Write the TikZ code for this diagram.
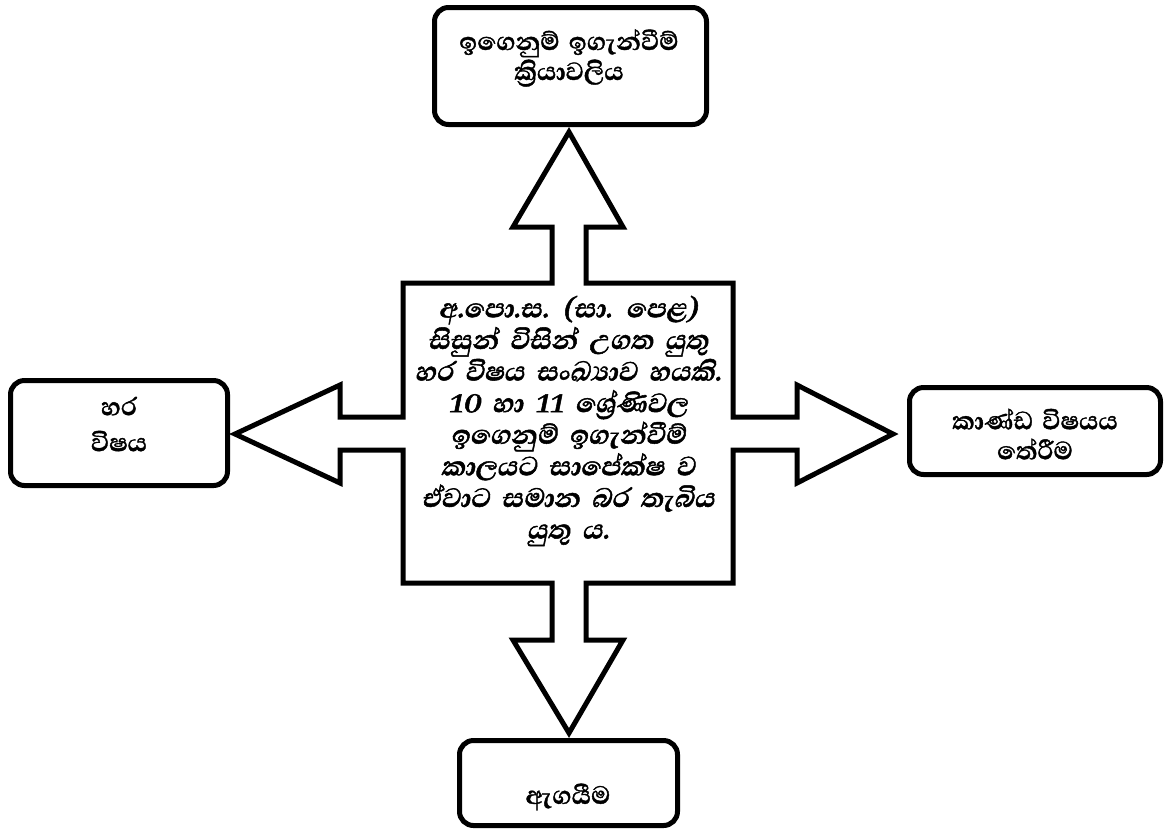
\documentclass[tikz,border=0pt]{standalone}
\usepackage{fontspec}
\newfontfamily\sinhalafont[Script=Sinhala,WordSpace=1.5,FakeBold=1.2]{Abhaya Libre}
\newfontfamily\sinhalaslant[Script=Sinhala,WordSpace=1.8,FakeSlant=0.2,FakeBold=1.5]{Abhaya Libre}
\begin{document}
\begin{tikzpicture}[x=0.5pt,y=-0.5pt,
  box/.style={draw,line width=2.5pt,rounded corners=7pt,inner sep=0pt},
  lbl/.style={align=center,font=\sinhalafont\bfseries\fontsize{16}{15}\selectfont},
  core/.style={align=center,font=\sinhalaslant\bfseries\fontsize{17}{15.8}\selectfont}]
  \useasboundingbox (0,0) rectangle (1168,832);
  % das Kreuz mit den vier Pfeilen
  \draw[line width=2.5pt] (403,283) -- (552,283) -- (552,227) -- (513,227) -- (569,132)
    -- (623,227) -- (586,227) -- (586,283) -- (733,283) -- (733,417) -- (797,417)
    -- (797,385) -- (893,434) -- (797,483) -- (797,450) -- (733,450) -- (733,583)
    -- (586,583) -- (586,640) -- (623,640) -- (569,733) -- (513,640) -- (552,640)
    -- (552,583) -- (403,583) -- (403,450) -- (340,450) -- (340,483) -- (235,434)
    -- (340,385) -- (340,417) -- (403,417) -- cycle;
  \node[core] (centre) at (568,421) {අ.පො.ස. (සා. පෙළ)\\
    සිසුන් විසින් උගත යුතු\\
    හර විෂය සංඛ්^^^^200dයාව හයකි.\\
    10 හා 11 ශ්^^^^200dරේණිවල\\
    ඉගෙනුම් ඉගැන්වීම්\\
    කාලයට සාපේක්ෂ ව\\
    ඒවාට සමාන බර තැබිය\\
    යුතු ය.};
  % die Kaesten
  \node[box,minimum width=136pt,minimum height=58.5pt] (process) at (570.5,66) {};
  \node[box,minimum width=108.5pt,minimum height=52.5pt] (core subj) at (119,433) {};
  \node[box,minimum width=125.5pt,minimum height=43.5pt] (basket) at (1035,431) {};
  \node[box,minimum width=109pt,minimum height=42.5pt] (assess) at (568.5,783) {};
  % Beschriftungen
  \node[lbl] (process txt) at (569,58) {ඉගෙනුම් ඉගැන්වීම්\\ක්^^^^200dරියාවලිය};
  \node[lbl,font=\sinhalafont\bfseries\fontsize{16}{18}\selectfont] (core subj txt) at (119,424) {හර\\විෂය};
  \node[lbl] (basket txt) at (1035,434) {කාණ්ඩ විෂයය\\තේරීම};
  \node[lbl] (assess txt) at (568,797) {ඇගයීම};
\end{tikzpicture}
\end{document}
